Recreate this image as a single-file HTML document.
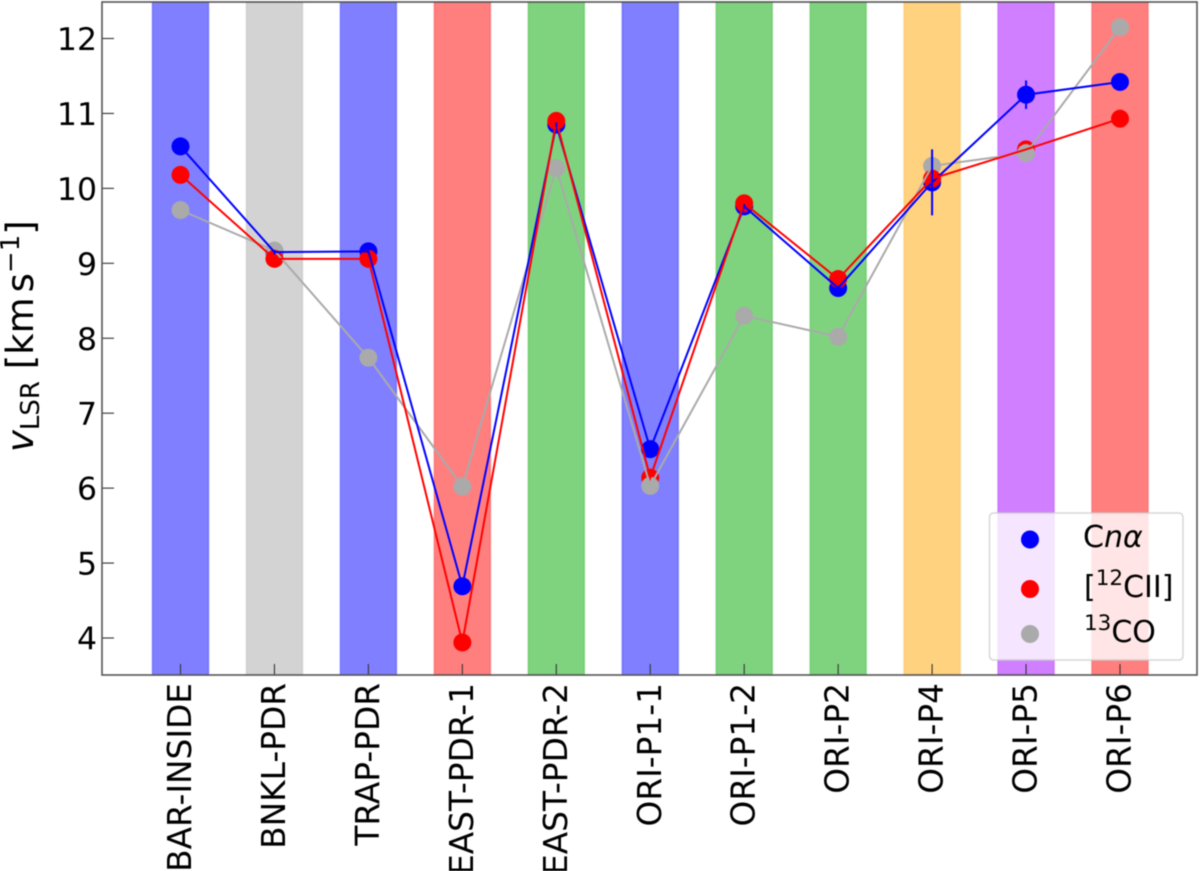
<!DOCTYPE html>
<html>
<head>
<meta charset="utf-8">
<title>vLSR chart</title>
<style>
html,body{margin:0;padding:0;background:#fff;}
svg{display:block;filter:blur(0.4px);}
text{font-family:"DejaVu Sans",sans-serif;fill:#000;}
</style>
</head>
<body>
<svg id="chart" xmlns="http://www.w3.org/2000/svg" width="1200" height="871" viewBox="0 0 1200 871">
  <g id="bands"></g>
  <g id="marks-pts"></g>
  <g id="marks-lines"></g>
  <g id="marks-err"></g>
  <g id="ticks"></g>
  <rect x="102" y="2" width="1095" height="673" fill="none" stroke="#555" stroke-width="1.6"/>
  <text transform="translate(33,452) rotate(-90)" font-size="37"><tspan font-style="italic">v</tspan><tspan font-size="26" dy="6">LSR</tspan><tspan dy="-6"> [km</tspan><tspan dx="5">s</tspan><tspan font-size="26" dy="-14">−1</tspan><tspan dy="14">]</tspan></text>
  <g>
    <rect x="989.5" y="513" width="193.5" height="147" rx="4" fill="#fff" fill-opacity="0.8" stroke="#ccc" stroke-opacity="0.8" stroke-width="1.5"/>
    <circle cx="1030" cy="539.5" r="9" fill="#0000ff"/>
    <circle cx="1030" cy="589" r="9" fill="#ff0000"/>
    <circle cx="1030" cy="634" r="9" fill="#aaaaaa"/>
    <text x="1083" y="547" font-size="30">C<tspan font-style="italic">nα</tspan></text>
    <text x="1084" y="597" font-size="30">[<tspan font-size="21.5" dy="-12">12</tspan><tspan dy="12">CII]</tspan></text>
    <text x="1084" y="642" font-size="30"><tspan font-size="21.5" dy="-12">13</tspan><tspan dy="12">CO</tspan></text>
  </g>
</svg>
<script>
const categories = ['BAR-INSIDE','BNKL-PDR','TRAP-PDR','EAST-PDR-1','EAST-PDR-2','ORI-P1-1','ORI-P1-2','ORI-P2','ORI-P4','ORI-P5','ORI-P6'];
const bandColors = ['#0000ff','#a8a8a8','#0000ff','#ff0000','#00a800','#0000ff','#00a800','#00a800','#ffa500','#a000ff','#ff0000'];
const cnAlpha = [10.56,9.15,9.16,4.69,10.85,6.52,9.76,8.67,10.08,11.25,11.42];
const cnAlphaErr = [0.03,0.03,0.03,0.03,0.03,0.03,0.03,0.03,0.44,0.19,0.03];
const cii = [10.18,9.06,9.06,3.94,10.90,6.14,9.80,8.79,10.13,10.52,10.93];
const co13 = [9.71,9.17,7.74,6.02,10.27,6.03,8.30,8.02,10.30,10.47,12.15];
const yTickLabels = [4,5,6,7,8,9,10,11,12];
const redAboveGray = ['BNKL-PDR','ORI-P4'];

const NS = 'http://www.w3.org/2000/svg';
function xPos(i){ return 180.5 + i * (1120 - 180.5) / 10; }
function yPos(v){ return 638 - (v - 4) * (638 - 38.5) / 8; }
function mk(tag, attrs, parent){
  const el = document.createElementNS(NS, tag);
  for (const k in attrs) el.setAttribute(k, attrs[k]);
  parent.appendChild(el);
  return el;
}
const bandsG = document.getElementById('bands');
const ptsG = document.getElementById('marks-pts');
const linesG = document.getElementById('marks-lines');
const errG = document.getElementById('marks-err');
const ticksG = document.getElementById('ticks');
const svgEl = document.getElementById('chart');

categories.forEach(function(name, i){
  const band = mk('rect', {x: xPos(i) - 28.2, y: 2, width: 56.4, height: 673, fill: bandColors[i], 'fill-opacity': 0.5, stroke: bandColors[i], 'stroke-opacity': 0.25, 'stroke-width': 1.5}, bandsG);
  
  

  const tick = mk('line', {x1: xPos(i), x2: xPos(i), y1: 675, y2: 664, stroke: '#333', 'stroke-width': 1.1}, ticksG);
  
  

  const label = mk('text', {transform: 'translate(' + (xPos(i) + 10.5) + ',683) rotate(-90)', 'text-anchor': 'end', 'font-size': 32.8}, svgEl);
  label.textContent = name;
  
  
});

yTickLabels.forEach(function(v){
  const tick = mk('line', {x1: 102, x2: 114, y1: yPos(v), y2: yPos(v), stroke: '#333', 'stroke-width': 1.1}, ticksG);
  
  

  const label = mk('text', {x: 97, y: yPos(v) + 11.5, 'text-anchor': 'end', 'font-size': 31.5}, svgEl);
  label.textContent = String(v);
  
  
});

function dot(i, v, color, key){
  const c = mk('circle', {cx: xPos(i), cy: yPos(v), r: 9, fill: color}, ptsG);
  
  
}
categories.forEach(function(name, i){
  dot(i, cnAlpha[i], '#0000ff', 'cnalpha');
  if (redAboveGray.indexOf(name) >= 0) {
    dot(i, co13[i], '#aaaaaa', 'co13');
    dot(i, cii[i], '#ff0000', 'cii');
  } else {
    dot(i, cii[i], '#ff0000', 'cii');
    dot(i, co13[i], '#aaaaaa', 'co13');
  }
});

function seriesLine(values, color, key){
  const pts = values.map(function(v, i){ return xPos(i).toFixed(2) + ',' + yPos(v).toFixed(2); }).join(' ');
  const l = mk('polyline', {points: pts, fill: 'none', stroke: color, 'stroke-width': 2, 'stroke-linejoin': 'miter'}, linesG);
  
  
}
seriesLine(co13, '#aaaaaa', 'co13');
seriesLine(cnAlpha, '#0000ff', 'cnalpha');
seriesLine(cii, '#ff0000', 'cii');

cnAlphaErr.forEach(function(e, i){
  const eb = mk('line', {x1: xPos(i), x2: xPos(i), y1: yPos(cnAlpha[i] - e), y2: yPos(cnAlpha[i] + e), stroke: '#0000ff', 'stroke-width': 2}, errG);
  
  
});
</script>
</body>
</html>
